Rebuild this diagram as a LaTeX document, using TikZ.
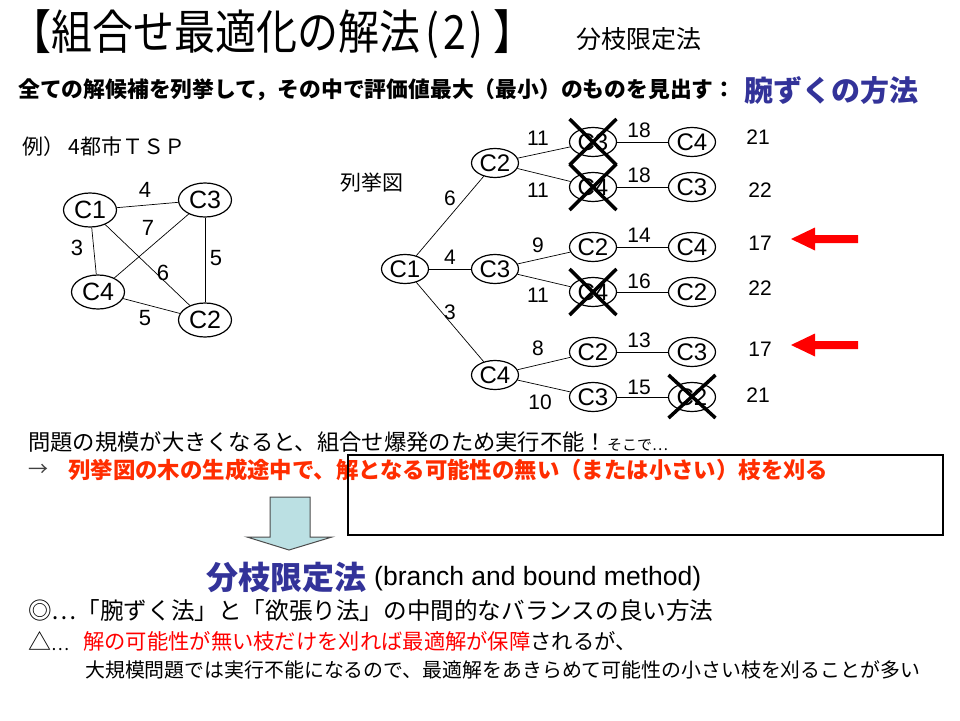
\documentclass[tikz,border=0pt]{standalone}
\usepackage{fontspec}
\setmainfont{Liberation Sans}
\newfontfamily\jp{Noto Sans CJK JP}
\usetikzlibrary{shapes.geometric}
\definecolor{ttblue}{RGB}{51,51,153}
\definecolor{ttred}{RGB}{255,45,0}
\definecolor{arrfill}{RGB}{187,224,227}
\begin{document}
\begin{tikzpicture}[x=1pt,y=-1pt,
  city/.style={ellipse,draw,line width=1.2pt,fill=white,minimum width=53pt,minimum height=34pt,inner sep=0pt,font=\fontsize{25}{25}\selectfont},
  tnode/.style={ellipse,draw,line width=1.2pt,fill=white,minimum width=47pt,minimum height=29pt,inner sep=0pt,font=\fontsize{24}{24}\selectfont},
  edge/.style={line width=0.7pt},
  elab/.style={font=\fontsize{21}{21}\selectfont,inner sep=0pt},
  glab/.style={font=\fontsize{22}{22}\selectfont,inner sep=0pt},
  xmark/.style={line width=3.5pt},
  jtext/.style={anchor=west,inner sep=0pt}
]
\useasboundingbox (0,0) rectangle (960,720);
\fill[white] (0,0) rectangle (960,720);

% Title
\node[jtext] (title) at (10,34) {\jp\fontsize{41}{41}\selectfont\scalebox{1}[1.15]{【組合せ最適化の解法\kern5pt(\kern4pt2\kern4pt)\kern10pt】}};
\node[jtext] (sub) at (576,39) {\jp\fontsize{25}{25}\selectfont 分枝限定法};
\node[jtext] (line1) at (18,90) {\jp\bfseries\fontsize{21.8}{22}\selectfont 全ての解候補を列挙して，その中で評価値最大（最小）のものを見出す：};
\node[jtext] (brute) at (744,90) {\jp\bfseries\fontsize{29}{29}\selectfont\color{ttblue}腕ずくの方法};

% Example graph
\node[jtext] (ex) at (22,147) {\jp\fontsize{21}{21}\selectfont 例）\ 4都市ＴＳＰ};
\node[city] (g1) at (90,210) {C1};
\node[city] (g3) at (205,200) {C3};
\node[city] (g4) at (98,292) {C4};
\node[city] (g2) at (205,320) {C2};
\draw[edge] (g1) -- (g3);
\draw[edge] (g1) -- (g4);
\draw[edge] (g1) -- (g2);
\draw[edge] (g3) -- (g4);
\draw[edge] (g3) -- (g2);
\draw[edge] (g4) -- (g2);
\node[glab] (w13) at (145,190) {4};
\node[glab] (w34) at (148,228) {7};
\node[glab] (w14) at (77,248) {3};
\node[glab] (w12) at (163,273) {6};
\node[glab] (w32) at (216,258) {5};
\node[glab] (w42) at (145,318) {5};

% Enumeration tree
\node[jtext] (enum) at (340,183) {\jp\fontsize{21}{21}\selectfont 列挙図};
\node[tnode] (t0) at (405,269) {C1};
\node[tnode] (a) at (495,163) {C2};
\node[tnode] (b) at (495,269) {C3};
\node[tnode] (c) at (495,375) {C4};
\node[tnode] (a1) at (593,142) {C3};
\node[tnode] (a2) at (593,187) {C4};
\node[tnode] (b1) at (593,247) {C2};
\node[tnode] (b2) at (593,292) {C4};
\node[tnode] (c1) at (593,352) {C2};
\node[tnode] (c2) at (593,397) {C3};
\node[tnode] (a1x) at (692,142) {C4};
\node[tnode] (a2x) at (692,187) {C3};
\node[tnode] (b1x) at (692,247) {C4};
\node[tnode] (b2x) at (692,292) {C2};
\node[tnode] (c1x) at (692,352) {C3};
\node[tnode] (c2x) at (692,397) {C2};
\foreach \p/\q in {t0/a,t0/b,t0/c,a/a1,a/a2,b/b1,b/b2,c/c1,c/c2,a1/a1x,a2/a2x,b1/b1x,b2/b2x,c1/c1x,c2/c2x}
  \draw[edge] (\p) -- (\q);
% edge weights
\node[elab] (l1) at (450,198) {6};
\node[elab] (l2) at (450,257) {4};
\node[elab] (l3) at (450,312) {3};
\node[elab] (l4) at (538,138) {11};
\node[elab] (l5) at (538,190) {11};
\node[elab] (l6) at (538,245) {9};
\node[elab] (l7) at (538,295) {11};
\node[elab] (l8) at (538,348) {8};
\node[elab] (l9) at (540,402) {10};
\node[elab] (l10) at (639,130) {18};
\node[elab] (l11) at (639,175) {18};
\node[elab] (l12) at (639,235) {14};
\node[elab] (l13) at (639,281) {16};
\node[elab] (l14) at (639,340) {13};
\node[elab] (l15) at (639,387) {15};
% totals
\node[elab] (s1) at (758,137) {21};
\node[elab] (s2) at (760,190) {22};
\node[elab] (s3) at (760,243) {17};
\node[elab] (s4) at (760,288) {22};
\node[elab] (s5) at (760,349) {17};
\node[elab] (s6) at (758,395) {21};
% crosses
\foreach \n in {a1,a2,b2}{
  \draw[xmark] ([shift={(-23.5,-23)}]\n.center) -- ([shift={(23.5,23)}]\n.center);
  \draw[xmark] ([shift={(-23.5,23)}]\n.center) -- ([shift={(23.5,-23)}]\n.center);
}
\draw[xmark] ([shift={(-23.5,-22)}]c2x.center) -- ([shift={(23.5,21)}]c2x.center);
\draw[xmark] ([shift={(-23.5,21)}]c2x.center) -- ([shift={(23.5,-22)}]c2x.center);
% red arrows
\coordinate (ra1) at (791,239);
\coordinate (ra2) at (791,345);
\foreach \nm in {ra1,ra2}{
  \fill[red] (\nm) -- ++(24,-11.5) -- ++(0,7.5) -- ++(43,0) -- ++(0,8) -- ++(-43,0) -- ++(0,7.5) -- cycle;
}

% Bottom
\node[jtext] (prob) at (28,442) {\jp\fontsize{22.3}{22}\selectfont 問題の規模が大きくなると、組合せ爆発のため実行不能！{\fontsize{15}{15}\selectfont そこで…}};
\node[jtext] (arr) at (28,470) {\jp\fontsize{20}{20}\selectfont\color{black!75}→};
\node[jtext] (redline) at (68,470) {\jp\bfseries\fontsize{22.4}{22}\selectfont\color{ttred}列挙図の木の生成途中で、解となる可能性の無い（または小さい）枝を刈る};
\draw[line width=1.6pt] (348,455) rectangle (943,535);
\draw[fill=arrfill,draw=black!70,line width=1pt] (270,497) -- (310,497) -- (310,537) -- (332,537) -- (289,550) -- (247,537) -- (270,537) -- cycle;

\node[jtext] (bb) at (206,577) {\jp\bfseries\fontsize{32}{32}\selectfont\color{ttblue}分枝限定法};
\node[jtext] (bbe) at (374,579) {\fontsize{26.5}{26}\selectfont (branch and bound method)};
\node[jtext] (good) at (28,611) {\jp\fontsize{23.6}{23}\selectfont ◎…「腕ずく法」と「欲張り法」の中間的なバランスの良い方法};
\node[jtext] (bad) at (28,641) {\jp\fontsize{23}{23}\selectfont △{\fontsize{17}{17}\selectfont …}};
\node[jtext] (badr) at (83,641) {\jp\fontsize{21.3}{21}\selectfont{\color{red}解の可能性が無い枝だけを刈れば最適解が保障}されるが、};
\node[jtext] (bad2) at (85,670) {\jp\fontsize{19.9}{20}\selectfont 大規模問題では実行不能になるので、最適解をあきらめて可能性の小さい枝を刈ることが多い};
\end{tikzpicture}
\end{document}
